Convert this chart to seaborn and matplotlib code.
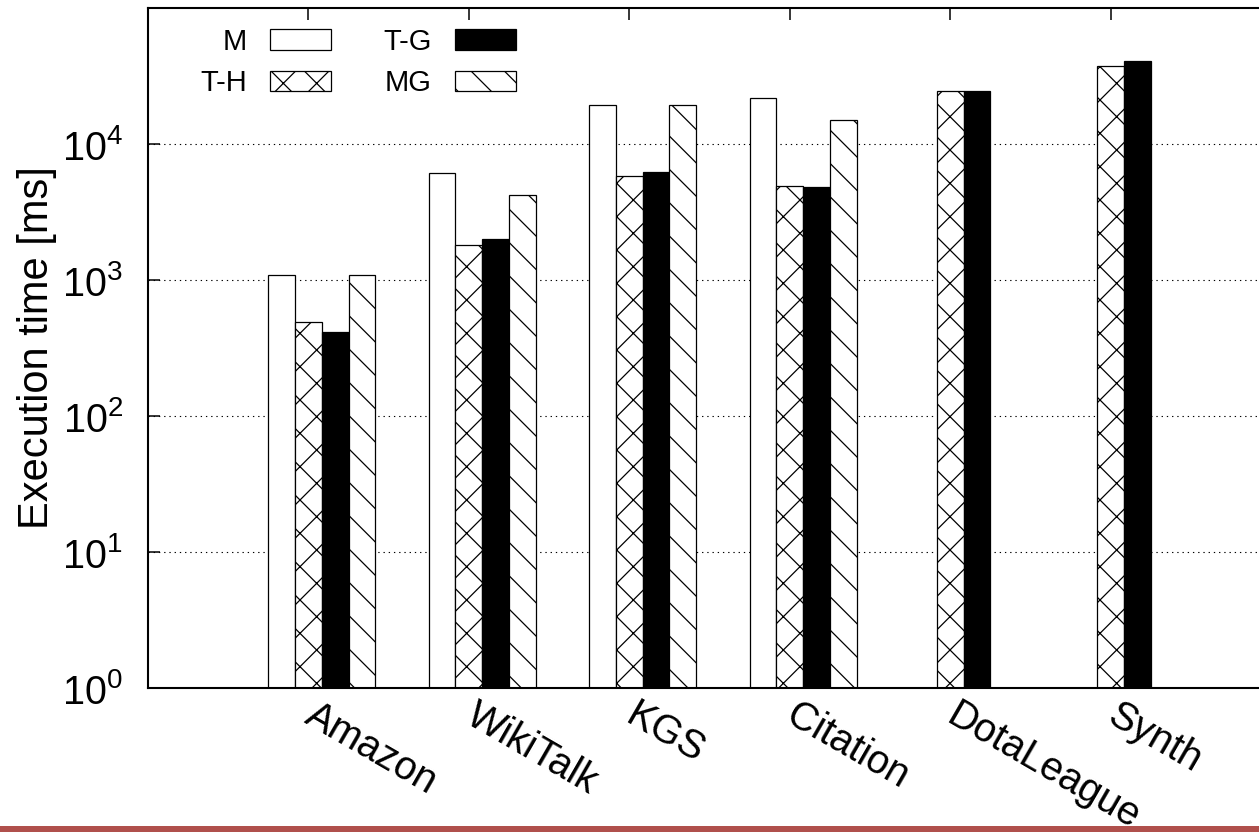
import numpy as np
import pandas as pd
import matplotlib
matplotlib.use("Agg")
import matplotlib.pyplot as plt
from matplotlib.patches import Rectangle
from matplotlib.ticker import NullLocator, FixedLocator
import seaborn as sns

# ---- data ----
categories = ["Amazon", "WikiTalk", "KGS", "Citation", "DotaLeague", "Synth"]
series = ["M", "T-H", "T-G", "MG"]
m_vals = [1080, 6140, 19300, 21700, np.nan, np.nan]
th_vals = [487, 1800, 5840, 4880, 24500, 37700]
tg_vals = [416, 2010, 6210, 4820, 24500, 41000]
mg_vals = [1080, 4230, 19300, 14900, np.nan, np.nan]
y_ticks = [1, 10, 100, 1000, 10000]
y_tick_labels = [r"$\mathregular{10^{0}}$", r"$\mathregular{10^{1}}$", r"$\mathregular{10^{2}}$",
                 r"$\mathregular{10^{3}}$", r"$\mathregular{10^{4}}$"]

sns.set_style("ticks")
plt.rcParams["font.family"] = ["Liberation Sans", "DejaVu Sans"]
plt.rcParams["mathtext.fontset"] = "custom"
plt.rcParams["mathtext.rm"] = "Liberation Sans"
plt.rcParams["hatch.linewidth"] = 0.9
plt.rcParams["hatch.color"] = "black"
for k in ["text.color", "axes.labelcolor", "xtick.color", "ytick.color", "axes.edgecolor"]:
    plt.rcParams[k] = "black"

rows = []
for name, vals in zip(series, [m_vals, th_vals, tg_vals, mg_vals]):
    for c, v in zip(categories, vals):
        if not np.isnan(v):
            rows.append({"dataset": c, "method": name, "time": v})
df = pd.DataFrame(rows)

W, H = 1259, 832
fig = plt.figure(figsize=(W / 100, H / 100), dpi=100)
ax = fig.add_axes([148 / W, (H - 688) / H, (1271 - 148) / W, (688 - 8) / H])

colors = {"M": "white", "T-H": "white", "T-G": "black", "MG": "white"}
hatches = {"M": "", "T-H": "x", "T-G": "", "MG": "\\"}

sns.barplot(data=df, x="dataset", y="time", hue="method", order=categories,
            hue_order=series, palette=colors, saturation=1, width=2 / 3,
            log_scale=True, edgecolor="black", linewidth=0.9, legend=False,
            errorbar=None, ax=ax, zorder=2)

for cont, name in zip(ax.containers, series):
    for p in cont.patches:
        p.set_hatch(hatches[name])
        p.set_edgecolor("black")
        p.set_facecolor(colors[name])

ax.set_yscale("log")
ax.set_ylim(1, 1e5)
ax.set_xlim(-1 - 1 / 12, 6 - 1 / 12)
ax.yaxis.set_major_locator(FixedLocator(y_ticks))
ax.yaxis.set_minor_locator(NullLocator())
ax.set_yticks(y_ticks)
ax.set_yticklabels(y_tick_labels, fontsize=28.5, color="black")

ax.set_xticks(np.arange(len(categories)) - 1 / 12)
ax.set_xticklabels(categories, fontsize=28.5, rotation=-30, ha="left", va="center",
                   rotation_mode="anchor", color="black")
ax.set_xlabel("")
ax.set_ylabel("Execution time [ms]", fontsize=30, color="black")
ax.yaxis.set_label_coords(-0.081, 0.5)

ax.tick_params(axis="y", direction="in", length=8.5, width=1.1, pad=18, left=True, right=True)
ax.tick_params(axis="x", direction="in", length=8.5, width=1.1, pad=17.5, top=True, bottom=False)

ax.grid(axis="y", which="major", color="black", linestyle=(0, (1.2, 3.5)), linewidth=0.8)
ax.set_axisbelow(True)
for s in ax.spines.values():
    s.set_linewidth(1.5)
    s.set_color("black")
    s.set_visible(True)

leg = ax.legend(handles=list(ax.containers), labels=series, ncol=2, frameon=False,
                markerfirst=False, fontsize=21, handlelength=2.09, handleheight=0.72,
                handletextpad=0.8, labelspacing=0.45, columnspacing=1.78,
                borderpad=0, borderaxespad=0, loc="upper left",
                bbox_to_anchor=(200 / W, 1 - 28 / H), bbox_transform=fig.transFigure)
for t in leg.get_texts():
    t.set_color("black")

fig.patches.append(Rectangle((0, 0), 1, 6 / H, transform=fig.transFigure,
                             facecolor="#b0504c", edgecolor="none", zorder=10))

fig.savefig("out.png", dpi=100)
